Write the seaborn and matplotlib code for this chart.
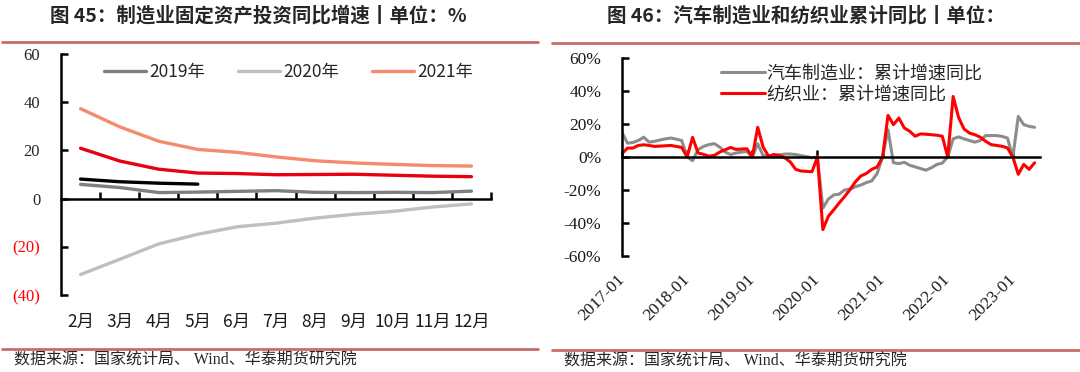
import matplotlib
matplotlib.use("Agg")
import matplotlib.pyplot as plt
from matplotlib.lines import Line2D
import seaborn as sns

sns.set_theme(style="white")
plt.rcParams['font.family'] = ['Noto Sans CJK SC', 'DejaVu Sans']
plt.rcParams['axes.unicode_minus'] = False

# ---- left chart: manufacturing FAI yoy (%) ----
months = ["2月", "3月", "4月", "5月", "6月", "7月", "8月", "9月", "10月", "11月", "12月"]
fai_2019 = [5.9, 4.6, 2.5, 2.7, 3.0, 3.3, 2.6, 2.5, 2.6, 2.5, 3.1]
fai_2020 = [-31.5, -25.2, -18.8, -14.8, -11.7, -10.2, -8.1, -6.5, -5.3, -3.5, -2.2]
fai_2021 = [37.3, 29.8, 23.8, 20.4, 19.2, 17.3, 15.7, 14.8, 14.2, 13.7, 13.5]
fai_2022 = [20.9, 15.6, 12.2, 10.6, 10.4, 9.9, 10.0, 10.1, 9.7, 9.3, 9.1]
fai_2023 = [8.1, 7.0, 6.4, 6.0]
left_yticks = [-40, -20, 0, 20, 40, 60]
left_yticklabels = ["(40)", "(20)", "0", "20", "40", "60"]

# ---- right chart: cumulative yoy, monthly from 2017-01 ----
auto_yoy = [14.9, 8.4, 8.8, 10.0, 12.0, 9.0, 9.5, 10.3, 11.0, 11.5, 10.8, 10.0,
            0.0, -2.2, 4.4, 6.4, 7.5, 8.1, 6.0, 3.0, 1.5, 2.4, 3.0, 3.4,
            0.0, 8.0, 0.9, 0.5, 0.9, 1.2, 1.8, 1.8, 1.5, 0.8, 0.2, -0.5,
            0.0, -31.0, -25.5, -23.0, -22.5, -20.0, -19.5, -18.0, -17.0, -15.5, -14.5, -10.0,
            0.0, 16.5, -3.5, -4.0, -3.2, -5.0, -6.0, -7.0, -8.0, -6.5, -4.5, -3.7,
            0.0, 11.0, 12.2, 11.0, 10.0, 9.0, 10.0, 13.0, 13.0, 13.0, 12.5, 11.5,
            0.0, 24.6, 19.6, 18.6, 18.0]
textile_yoy = [2.0, 5.4, 5.4, 7.0, 7.4, 7.0, 6.4, 6.6, 6.8, 7.0, 6.4, 5.8,
               0.0, 11.9, 2.5, 1.6, 0.5, 1.0, 3.0, 4.4, 5.8, 4.6, 4.8, 5.0,
               0.0, 18.0, 6.0, 0.5, 1.5, 1.0, -0.5, -3.0, -7.5, -8.5, -8.7, -8.9,
               0.0, -44.0, -36.0, -32.0, -27.9, -24.0, -19.8, -15.0, -11.5, -10.0, -7.5, -6.0,
               0.0, 25.2, 19.6, 23.6, 17.6, 15.6, 12.6, 14.0, 13.8, 13.5, 13.2, 12.6,
               0.0, 36.7, 24.0, 17.0, 14.5, 13.5, 12.0, 9.5, 7.5, 7.0, 6.5, 5.5,
               0.0, -10.5, -4.5, -7.5, -3.5]
year_labels = ["2017-01", "2018-01", "2019-01", "2020-01", "2021-01", "2022-01", "2023-01"]

W, H = 1080, 372
fig = plt.figure(figsize=(W / 100, H / 100), dpi=100)
serif = ['Liberation Serif', 'Noto Sans CJK SC']
rule_color = '#c96b6b'


def frame(l, t, r, b):
    return [l / W, 1 - b / H, (r - l) / W, (b - t) / H]


# ================= left =================
ax1 = fig.add_axes(frame(61, 54, 491, 295))
x_m = list(range(len(months)))
sns.lineplot(x=x_m, y=fai_2019, ax=ax1, color="#7f7f7f", linewidth=2.4, label="2019年")
sns.lineplot(x=x_m, y=fai_2020, ax=ax1, color="#bfbfbf", linewidth=2.4, label="2020年")
sns.lineplot(x=x_m, y=fai_2021, ax=ax1, color="#f58b6c", linewidth=2.4, label="2021年")
sns.lineplot(x=x_m, y=fai_2022, ax=ax1, color="#e60012", linewidth=2.4)
sns.lineplot(x=x_m[:len(fai_2023)], y=fai_2023, ax=ax1, color="#000000", linewidth=2.4)

ax1.set_xlim(-0.5, len(months) - 0.5)
ax1.set_ylim(-40, 60)
for s in ["top", "right"]:
    ax1.spines[s].set_visible(False)
ax1.spines["left"].set_linewidth(1.8)
ax1.spines["left"].set_color("black")
ax1.spines["bottom"].set_position(("data", 0))
ax1.spines["bottom"].set_linewidth(1.8)
ax1.spines["bottom"].set_color("black")
ax1.set_xticks([i + 0.5 for i in x_m])
ax1.set_xticklabels([])
ax1.tick_params(axis="x", direction="in", length=5, width=1.8, color="black", bottom=True)
ax1.set_yticks(left_yticks)
ax1.set_yticklabels(left_yticklabels, family=serif, fontsize=12)
ax1.tick_params(axis="y", direction="in", length=5, width=1.8, color="black", left=True, pad=15)
for lab, v in zip(ax1.get_yticklabels(), left_yticks):
    lab.set_color("#ff0000" if v < 0 else "#262626")
ax1.set_xlabel("")
ax1.set_ylabel("")

sec1 = ax1.secondary_xaxis("bottom")
sec1.set_xticks(x_m)
sec1.set_xticklabels(months, fontsize=12.5, color="#1a1a1a")
sec1.tick_params(length=0, pad=13)
sec1.spines["bottom"].set_visible(False)

h1 = ax1.get_lines()[:3]
ax1.legend(h1, ["2019年", "2020年", "2021年"], loc="center", ncol=3, frameon=False,
           bbox_to_anchor=(0.53, 0.925), handlelength=2.4, columnspacing=1.9,
           handletextpad=0.2, fontsize=12.5)

# ================= right =================
ax2 = fig.add_axes(frame(622, 58, 1040, 256))
x_r = list(range(len(auto_yoy)))
sns.lineplot(x=x_r, y=auto_yoy, ax=ax2, color="#8c8c8c", linewidth=2.2, label="汽车制造业：累计增速同比")
sns.lineplot(x=x_r, y=textile_yoy, ax=ax2, color="#ff0000", linewidth=2.2, label="纺织业：累计增速同比")

ax2.set_xlim(0, len(auto_yoy))
ax2.set_ylim(-60, 60)
for s in ["top", "right"]:
    ax2.spines[s].set_visible(False)
ax2.spines["left"].set_linewidth(1.8)
ax2.spines["left"].set_color("black")
ax2.spines["bottom"].set_position(("data", 0))
ax2.spines["bottom"].set_linewidth(1.8)
ax2.spines["bottom"].set_color("black")
yr_pos = [12 * i for i in range(len(year_labels))]
ax2.set_xticks(yr_pos)
ax2.set_xticklabels([])
ax2.tick_params(axis="x", direction="in", length=5, width=1.8, color="black", bottom=True)
r_yticks = list(range(-60, 61, 20))
ax2.set_yticks(r_yticks)
ax2.set_yticklabels([f"{v}%" for v in r_yticks], family=serif, fontsize=12.5, color="#1a1a1a")
ax2.tick_params(axis="y", direction="in", length=5, width=1.8, color="black", left=True, pad=15)
ax2.set_xlabel("")
ax2.set_ylabel("")

sec2 = ax2.secondary_xaxis("bottom")
sec2.set_xticks(yr_pos)
sec2.set_xticklabels(year_labels, family=serif, fontsize=12.5, color="#1a1a1a",
                     rotation=45, ha="right", va="center", rotation_mode="anchor")
sec2.tick_params(length=0, pad=15)
sec2.spines["bottom"].set_visible(False)

ax2.legend(loc="center", frameon=False, bbox_to_anchor=(0.55, 0.869),
           handlelength=2.4, handletextpad=0.1, labelspacing=0.2, fontsize=13)

# ================= titles, rules, sources =================
fig.text(258 / W, 1 - 16 / H, "图 45：制造业固定资产投资同比增速丨单位：%", ha="center", va="center",
         fontsize=14, fontweight="bold", color="#262626")
fig.text(806 / W, 1 - 16 / H, "图 46：汽车制造业和纺织业累计同比丨单位：", ha="center", va="center",
         fontsize=14, fontweight="bold", color="#262626")
for x0, x1, y in [(2, 538, 42), (2, 538, 349), (552, 1080, 43), (552, 1080, 350)]:
    fig.add_artist(Line2D([x0 / W, x1 / W], [1 - y / H, 1 - y / H], color=rule_color,
                          linewidth=2, transform=fig.transFigure))
fig.text(14 / W, 1 - 361 / H, "数据来源：国家统计局、 Wind、华泰期货研究院", ha="left", va="center",
         fontsize=11.5, color="#262626", family=serif)
fig.text(564 / W, 1 - 362 / H, "数据来源：国家统计局、 Wind、华泰期货研究院", ha="left", va="center",
         fontsize=11.5, color="#262626", family=serif)

fig.savefig("out.png", dpi=100)
